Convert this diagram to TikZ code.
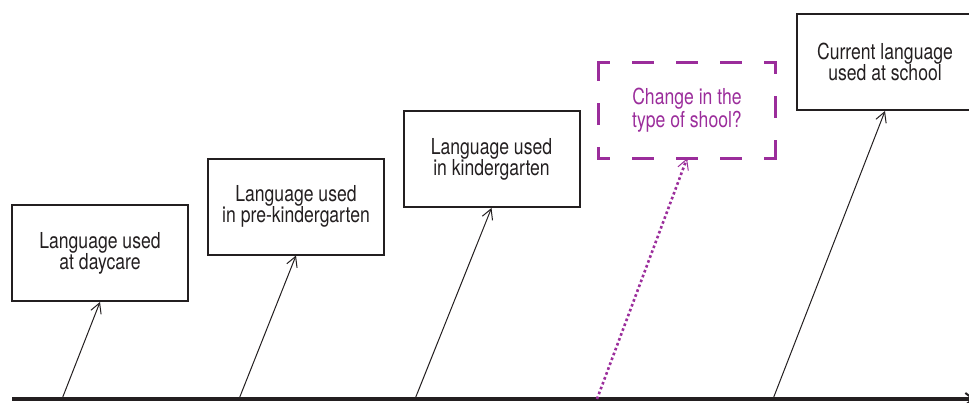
\documentclass[tikz,border=0pt]{standalone}
\usepackage{fontspec}
\setmainfont{TeX Gyre Heros}[FakeStretch=0.8]
\usepackage{tikz}
\usetikzlibrary{arrows.meta,positioning}
\definecolor{ink}{RGB}{35,31,32}
\definecolor{plum}{RGB}{155,45,155}
\tikzset{
	stage/.style={draw=ink,line width=1pt,minimum width=88pt,minimum height=48pt,align=center,text=ink,font=\fontsize{11}{10.5}\selectfont},
	query/.style={minimum width=88pt,minimum height=47.5pt,align=center,text=plum,font=\fontsize{11}{10.5}\selectfont},
	link/.style={draw=ink,line width=0.5pt,-{Straight Barb[length=5pt,width=5.5pt,line width=0.5pt]}},
}
\begin{document}
\begin{tikzpicture}[x=0.5pt,y=-0.5pt]
	\useasboundingbox (0,0) rectangle (969,402);
	% time line
	\coordinate (start) at (12,399);
	\coordinate (stop) at (975,399);
	\draw [line width=2.4pt,ink,-{Straight Barb[length=4pt,width=6pt,line width=1pt]}] (start) -- (stop);
	\coordinate (t1) at (62,399);
	\coordinate (t2) at (239,399);
	\coordinate (t3) at (415,399);
	\coordinate (t4) at (597,399);
	\coordinate (t5) at (773,399);
	% boxes
	\node[stage] (daycare) at (100,253) {Language used\\at daycare};
	\node[stage] (prek) at (296,206.5) {Language used\\in pre-kindergarten};
	\node[stage] (kinder) at (491.5,159) {Language used\\in kindergarten};
	\node[query] (change) at (687,110.5) {Change in the\\type of shool?};
	\node[stage] (school) at (885,62) {Current language\\used at school};
	\draw [plum,line width=1.5pt,line cap=rect,dash pattern=on 9.5pt off 12.5pt,dash phase=4.75pt]
		(change.north west) -- (change.north east) (change.north east) -- (change.south east)
		(change.south east) -- (change.south west) (change.south west) -- (change.north west);
	% arrows
	\draw [link] (t1) -- (daycare.south);
	\draw [link] (t2) -- (prek.south);
	\draw [link] (t3) -- (kinder.south);
	\draw [plum,line width=1.3pt,dash pattern=on 1.3pt off 1.3pt,-{Straight Barb[length=5pt,width=5.5pt,line width=0.5pt]}] (t4) -- (change.south);
	\draw [link] (t5) -- (school.south);
\end{tikzpicture}
\end{document}
